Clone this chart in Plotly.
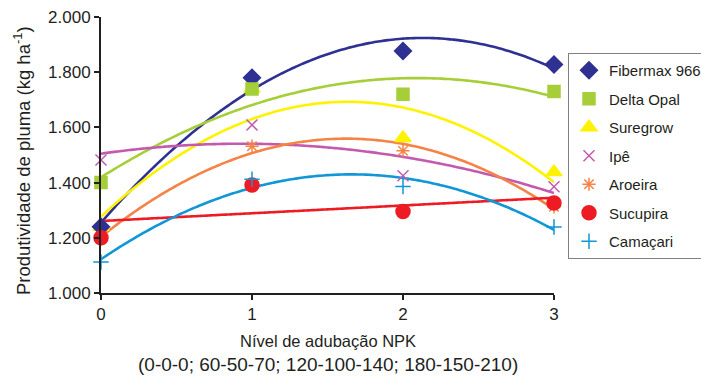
import numpy as np
import plotly.graph_objects as go

# NPK fertilisation levels
levels = [0, 1, 2, 3]

# Lint yield (kg/ha) per cultivar at each level
fibermax = [1240, 1780, 1877, 1828]
delta_opal = [1400, 1739, 1720, 1730]
suregrow = [1240, 1740, 1562, 1438]
ipe = [1482, 1609, 1425, 1385]
aroeira = [1195, 1532, 1515, 1312]
sucupira = [1200, 1391, 1295, 1326]
camacari = [1112, 1412, 1386, 1239]

y_ticks = [1000, 1200, 1400, 1600, 1800, 2000]

series = [
    # name, values, trend degree, colour, symbol, size
    ("Fibermax 966", fibermax, 2, "#2E3192", "diamond", 13),
    ("Delta Opal", delta_opal, 2, "#A6CE39", "square", 12),
    ("Suregrow", suregrow, 2, "#FFF200", "triangle-up", 14),
    ("Ipê", ipe, 2, "#C45AB0", "x-thin-open", 11),
    ("Aroeira", aroeira, 2, "#F58345", "asterisk-open", 11),
    ("Sucupira", sucupira, 1, "#ED1C24", "circle", 14),
    ("Camaçari", camacari, 2, "#1196D6", "cross-thin-open", 11),
]

FONT = "Liberation Sans, Arial, Helvetica, sans-serif"
INK = "#231F20"

W, H = 701, 379
ML, MR, MT, MB = 101, 147, 17, 86
PW, PH = W - ML - MR, H - MT - MB

fig = go.Figure()

# Trend lines (least-squares polynomial fits)
xs = np.linspace(0, 3, 121)
for name, vals, deg, color, symbol, size in series:
    coef = np.polyfit(levels, vals, deg)
    fig.add_trace(go.Scatter(
        x=xs, y=np.polyval(coef, xs), mode="lines",
        line=dict(color=color, width=2.6, shape="spline"),
        showlegend=False, hoverinfo="skip", cliponaxis=False,
    ))

# Observed means; Suregrow markers go underneath the others
draw_order = [2, 0, 1, 3, 4, 5, 6]
for i in draw_order:
    name, vals, deg, color, symbol, size = series[i]
    fig.add_trace(go.Scatter(
        x=levels, y=vals, mode="markers", name=name,
        marker=dict(symbol=symbol, size=size, color=color,
                    line=dict(color=color, width=1.5)),
        legendrank=i + 1, legendgroup=name, cliponaxis=False,
    ))

# Axis titles as free annotations so their position is fixed
fig.add_annotation(
    xref="paper", yref="paper", x=(22 - ML) / PW, y=1 - (161 - MT) / PH,
    text="Produtividade de pluma (kg ha<sup>-1</sup>)", textangle=-90,
    showarrow=False, font=dict(size=18.5, family=FONT, color=INK),
    xanchor="center", yanchor="middle",
)
fig.add_annotation(
    xref="paper", yref="paper", x=0.5, y=-(341 - MT - PH) / PH,
    text="Nível de adubação NPK", showarrow=False,
    font=dict(size=16.5, family=FONT, color=INK), xanchor="center", yanchor="middle",
)
fig.add_annotation(
    xref="paper", yref="paper", x=0.5, y=-(364 - MT - PH) / PH,
    text="(0-0-0; 60-50-70; 120-100-140; 180-150-210)", showarrow=False,
    font=dict(size=19, family=FONT, color=INK), xanchor="center", yanchor="middle",
)

fig.update_layout(
    width=W, height=H,
    margin=dict(l=ML, r=MR, t=MT, b=MB, autoexpand=False),
    paper_bgcolor="white", plot_bgcolor="white",
    font=dict(family=FONT, size=17, color=INK),
    separators=",.",
    showlegend=True,
    legend=dict(
        xref="container", yref="container",
        x=568 / W, y=1 - 53 / H, xanchor="left", yanchor="top",
        bgcolor="white", bordercolor="#808080", borderwidth=1,
        font=dict(family=FONT, size=15, color=INK),
        tracegroupgap=6, itemsizing="trace", maxheight=330,
    ),
    xaxis=dict(
        range=[0, 3], tickvals=levels, ticks="outside", ticklen=5,
        tickwidth=2, tickcolor=INK, showgrid=False, zeroline=False,
        showline=True, linecolor=INK, linewidth=2, automargin=False,
        tickfont=dict(size=17),
    ),
    yaxis=dict(
        range=[1000, 2000], tickvals=y_ticks, tickformat=",.0f",
        ticks="outside", ticklen=5, tickwidth=2, tickcolor=INK,
        showgrid=False, zeroline=False, showline=True, automargin=False,
        linecolor=INK, linewidth=2, tickfont=dict(size=17),
    ),
)

fig.write_html("out.html")
